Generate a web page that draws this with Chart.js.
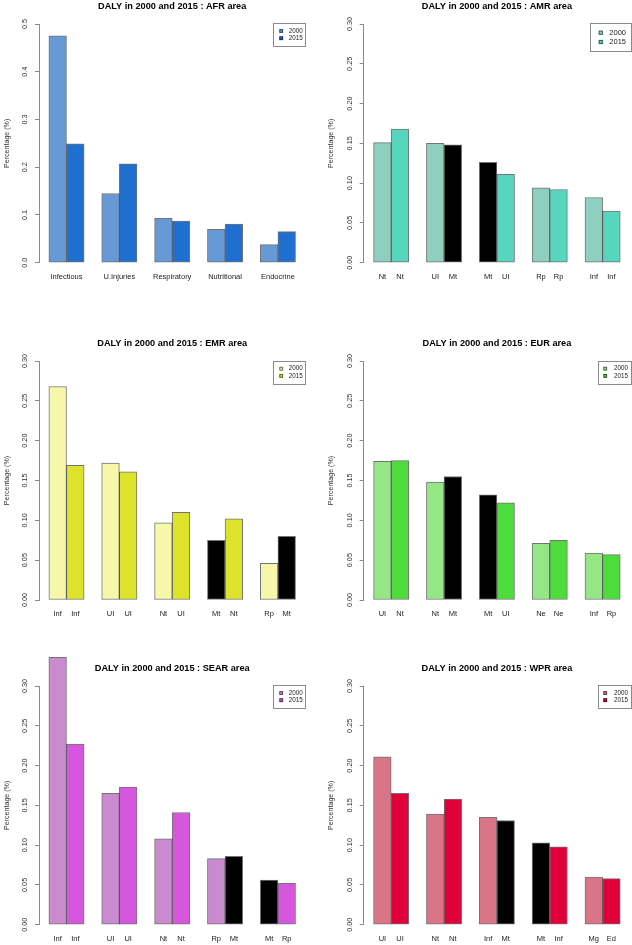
<!DOCTYPE html>
<html><head><meta charset="utf-8">
<script src="https://cdn.jsdelivr.net/npm/chart.js@4.4.0/dist/chart.umd.min.js"></script>
<style>
html,body{margin:0;padding:0;background:#fff;width:632px;height:945px;overflow:hidden;}
canvas{position:absolute;}
</style></head><body>
<canvas id="afr" width="316" height="310" style="left:0px;top:0px"></canvas>
<canvas id="amr" width="316" height="310" style="left:316px;top:0px"></canvas>
<canvas id="emr" width="316" height="315" style="left:0px;top:310px"></canvas>
<canvas id="eur" width="316" height="315" style="left:316px;top:310px"></canvas>
<canvas id="sear" width="316" height="320" style="left:0px;top:625px"></canvas>
<canvas id="wpr" width="316" height="320" style="left:316px;top:625px"></canvas>
<script>
// ---------- data ----------
const seriesNames = ["2000", "2015"];

const afrLabels = ["Infectious", "U.Injuries", "Respiratory", "Nutritional", "Endocrine"];
const afr2000 = [0.475, 0.145, 0.093, 0.070, 0.038];
const afr2015 = [0.249, 0.207, 0.087, 0.081, 0.065];

const amrLabels2000 = ["Nt", "UI", "Mt", "Rp", "Inf"];
const amrLabels2015 = ["Nt", "Mt", "UI", "Rp", "Inf"];
const amr2000 = [0.151, 0.150, 0.126, 0.094, 0.082];
const amr2015 = [0.168, 0.148, 0.111, 0.092, 0.065];

const emrLabels2000 = ["Inf", "UI", "Nt", "Mt", "Rp"];
const emrLabels2015 = ["Inf", "UI", "UI", "Nt", "Mt"];
const emr2000 = [0.268, 0.172, 0.097, 0.075, 0.046];
const emr2015 = [0.169, 0.161, 0.110, 0.102, 0.080];

const eurLabels2000 = ["UI", "Nt", "Mt", "Ne", "Inf"];
const eurLabels2015 = ["Nt", "Mt", "UI", "Ne", "Rp"];
const eur2000 = [0.174, 0.148, 0.132, 0.071, 0.059];
const eur2015 = [0.175, 0.155, 0.122, 0.075, 0.057];

const searLabels2000 = ["Inf", "UI", "Nt", "Rp", "Mt"];
const searLabels2015 = ["Inf", "UI", "Nt", "Mt", "Rp"];
const sear2000 = [0.336, 0.165, 0.108, 0.083, 0.056];
const sear2015 = [0.227, 0.173, 0.141, 0.086, 0.052];

const wprLabels2000 = ["UI", "Nt", "Inf", "Mt", "Mg"];
const wprLabels2015 = ["UI", "Nt", "Mt", "Inf", "Ed"];
const wpr2000 = [0.211, 0.139, 0.135, 0.103, 0.060];
const wpr2015 = [0.165, 0.158, 0.131, 0.098, 0.058];

const yTicksAfr = [0, 0.1, 0.2, 0.3, 0.4, 0.5];
const yTickLabelsAfr = ["0.0", "0.1", "0.2", "0.3", "0.4", "0.5"];
const yTicks = [0, 0.05, 0.10, 0.15, 0.20, 0.25, 0.30];
const yTickLabels = ["0.00", "0.05", "0.10", "0.15", "0.20", "0.25", "0.30"];

// ---------- styling ----------
Chart.defaults.font.family = "'Liberation Sans', Arial, Helvetica, sans-serif";
Chart.defaults.color = "#222";

const legendPlugin = {
  id: 'rlegend',
  afterDraw(chart, args, o) {
    const ctx = chart.ctx;
    ctx.save();
    ctx.lineWidth = 1;
    ctx.strokeStyle = '#8a8a8a';
    ctx.strokeRect(Math.round(o.x) + 0.5, Math.round(o.y) + 0.5, Math.round(o.w), Math.round(o.h));
    ctx.font = o.size + "px 'Liberation Sans', Arial, sans-serif";
    ctx.textBaseline = 'middle';
    ctx.textAlign = 'left';
    chart.data.datasets.forEach((d, i) => {
      const cy = o.y + o.row0 + i * o.gap;
      ctx.fillStyle = d.legendColor;
      ctx.fillRect(o.sx, cy - o.sq / 2, o.sq, o.sq);
      ctx.strokeStyle = 'rgba(0,0,0,0.55)';
      ctx.strokeRect(o.sx + 0.5, cy - o.sq / 2 + 0.5, o.sq - 1, o.sq - 1);
      ctx.fillStyle = '#222';
      ctx.fillText(d.label, o.tx, cy);
    });
    ctx.restore();
  }
};

function makeDataset(vals, labs, color, k) {
  return {
    label: seriesNames[k],
    data: vals.map((v, g) => ({ x: 3 * g + 1.5 + k, y: v })),
    backgroundColor: vals.map((v, g) => labs[g] === 'Mt' ? '#000000' : color),
    legendColor: color,
    borderColor: 'rgba(0,0,0,0.55)',
    borderWidth: 1,
    borderSkipped: false,
    grouped: false,
    barPercentage: 1,
    categoryPercentage: 1,
    clip: false
  };
}

function panel(id, c) {
  const canvas = document.getElementById(id);
  const W = canvas.width, H = canvas.height;
  const hx = 20, titleSize = 9.2, titleTop = 1.5, titleGap = 13;
  new Chart(canvas, {
    type: 'bar',
    data: {
      datasets: [
        makeDataset(c.v2000, c.l2000, c.colors[0], 0),
        makeDataset(c.v2015, c.l2015, c.colors[1], 1)
      ]
    },
    options: {
      responsive: false,
      animation: false,
      events: [],
      devicePixelRatio: 1,
      layout: { padding: { left: 0, right: W - c.plotRight, top: c.topTick - titleSize - titleGap - titleTop, bottom: H - c.zero - hx } },
      plugins: {
        legend: { display: false },
        tooltip: { enabled: false },
        title: {
          display: true, text: c.title, color: '#000', fullSize: false,
          font: { size: titleSize, weight: 'bold', lineHeight: 1 },
          padding: { top: titleTop, bottom: titleGap }
        },
        rlegend: c.legend
      },
      scales: {
        x: {
          type: 'linear', min: 0.44, max: 15.56, offset: false,
          grid: { display: false, drawTicks: false, offset: false },
          border: { display: false },
          afterBuildTicks: (s) => { s.ticks = c.xPos.map(v => ({ value: v })); },
          afterFit: (s) => { s.height = hx; },
          ticks: {
            autoSkip: false, maxRotation: 0, minRotation: 0, padding: 9.8,
            font: { size: 7.5 }, color: '#222',
            callback: (v, i) => c.xLabels[i]
          }
        },
        y: {
          type: 'linear', min: 0, max: c.yVals[c.yVals.length - 1],
          afterBuildTicks: (s) => { s.ticks = c.yVals.map(v => ({ value: v })); },
          afterFit: (s) => { s.width = c.axisX; },
          grid: { display: true, drawOnChartArea: false, drawTicks: true, tickLength: 4, color: '#8a8a8a', lineWidth: 1 },
          border: { display: true, color: '#8a8a8a', width: 1 },
          ticks: {
            minRotation: 90, maxRotation: 90, crossAlign: 'center', padding: c.yPad,
            font: { size: 7.3 }, color: '#333',
            callback: (v, i) => c.yLabs[i]
          },
          title: {
            display: true, text: 'Percentage (%)', color: '#333',
            font: { size: 7.1 }, padding: { top: c.titlePad, bottom: 0 }
          }
        }
      }
    },
    plugins: [legendPlugin]
  });
}

function pairPos() { const p = []; for (let g = 0; g < 5; g++) { p.push(3 * g + 1.5, 3 * g + 2.5); } return p; }
function pairLabels(a, b) { const r = []; for (let g = 0; g < a.length; g++) { r.push(a[g], b[g]); } return r; }

const leftGeom = { axisX: 39, plotRight: 305.4, titlePad: 2.4 };
const rightGeom = { axisX: 47.7, plotRight: 314.1, titlePad: 10.7 };
const smallLegendL = (y) => ({ x: 273.3, y: y, w: 32, h: 22.7, sx: 279.3, sq: 3.8, row0: 7.7, gap: 7.2, tx: 288.7, size: 6.3 });
const smallLegendR = (y) => ({ x: 282, y: y, w: 32.7, h: 22.7, sx: 287.3, sq: 3.8, row0: 7.7, gap: 7.2, tx: 298, size: 6.3 });

panel('afr', Object.assign({}, leftGeom, {
  title: 'DALY in 2000 and 2015 : AFR area', topTick: 24, zero: 262.7,
  v2000: afr2000, v2015: afr2015, l2000: afrLabels, l2015: afrLabels,
  colors: ['#6699d6', '#1f6fd1'],
  xPos: afrLabels.map((n, g) => 3 * g + 2), xLabels: afrLabels,
  yVals: yTicksAfr, yLabs: yTickLabelsAfr, yPad: 5.2,
  legend: smallLegendL(23.3)
}));
panel('amr', Object.assign({}, rightGeom, {
  title: 'DALY in 2000 and 2015 : AMR area', topTick: 24, zero: 262.7,
  v2000: amr2000, v2015: amr2015, l2000: amrLabels2000, l2015: amrLabels2015,
  colors: ['#8fcfc0', '#57d6be'],
  xPos: pairPos(), xLabels: pairLabels(amrLabels2000, amrLabels2015),
  yVals: yTicks, yLabs: yTickLabels, yPad: 3.1,
  legend: { x: 274, y: 23.3, w: 40.7, h: 28, sx: 282.7, sq: 4.2, row0: 9.4, gap: 9.3, tx: 293.3, size: 7.5 }
}));
panel('emr', Object.assign({}, leftGeom, {
  title: 'DALY in 2000 and 2015 : EMR area', topTick: 51, zero: 290,
  v2000: emr2000, v2015: emr2015, l2000: emrLabels2000, l2015: emrLabels2015,
  colors: ['#f7f7aa', '#dde32b'],
  xPos: pairPos(), xLabels: pairLabels(emrLabels2000, emrLabels2015),
  yVals: yTicks, yLabs: yTickLabels, yPad: 3.1,
  legend: smallLegendL(51)
}));
panel('eur', Object.assign({}, rightGeom, {
  title: 'DALY in 2000 and 2015 : EUR area', topTick: 51, zero: 290,
  v2000: eur2000, v2015: eur2015, l2000: eurLabels2000, l2015: eurLabels2015,
  colors: ['#95e786', '#4ddc3c'],
  xPos: pairPos(), xLabels: pairLabels(eurLabels2000, eurLabels2015),
  yVals: yTicks, yLabs: yTickLabels, yPad: 3.1,
  legend: smallLegendR(51)
}));
panel('sear', Object.assign({}, leftGeom, {
  title: 'DALY in 2000 and 2015 : SEAR area', topTick: 61, zero: 299.7,
  v2000: sear2000, v2015: sear2015, l2000: searLabels2000, l2015: searLabels2015,
  colors: ['#c98ad0', '#d756de'],
  xPos: pairPos(), xLabels: pairLabels(searLabels2000, searLabels2015),
  yVals: yTicks, yLabs: yTickLabels, yPad: 3.1,
  legend: smallLegendL(60.3)
}));
panel('wpr', Object.assign({}, rightGeom, {
  title: 'DALY in 2000 and 2015 : WPR area', topTick: 61, zero: 299.7,
  v2000: wpr2000, v2015: wpr2015, l2000: wprLabels2000, l2015: wprLabels2015,
  colors: ['#d97587', '#e0003a'],
  xPos: pairPos(), xLabels: pairLabels(wprLabels2000, wprLabels2015),
  yVals: yTicks, yLabs: yTickLabels, yPad: 3.1,
  legend: smallLegendR(60.3)
}));
</script>
</body></html>
